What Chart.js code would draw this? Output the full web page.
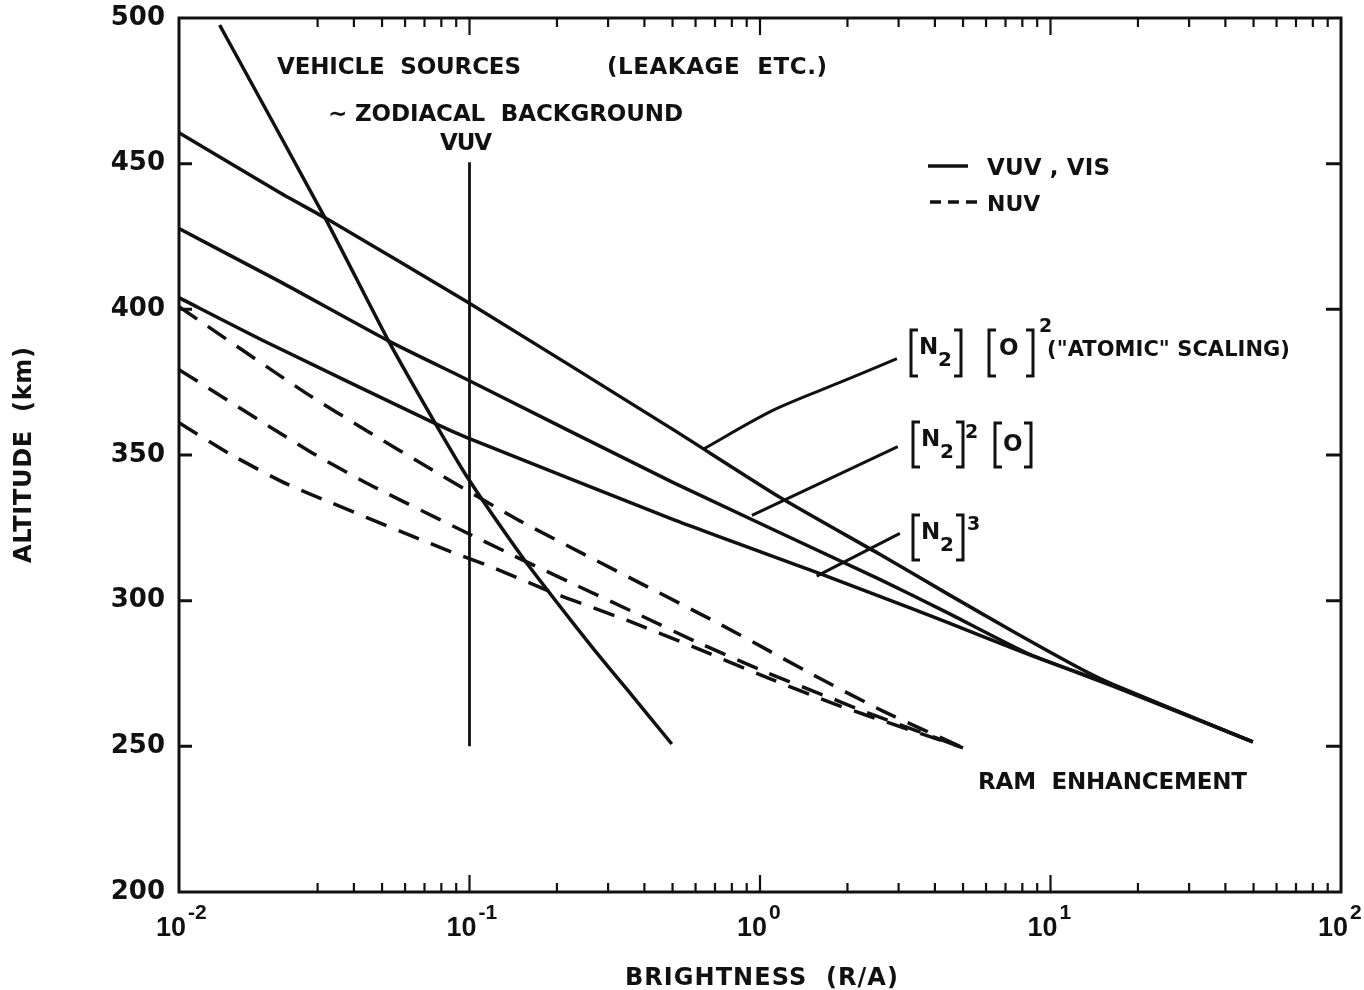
<!DOCTYPE html>
<html lang="en">
<head>
  <meta charset="UTF-8">
  <title>Altitude vs Brightness</title>
  <script src="https://cdn.jsdelivr.net/npm/chart.js"></script>
  <style>
    * { margin: 0; padding: 0; box-sizing: border-box; }
    body { background: #fff; }
    canvas { display: block; }
  </style>
</head>
<body>
  <canvas id="glowChart" width="1364" height="990"></canvas>

  <script>
    // brightness (R/A) and altitude (km) along each curve
    const zodiacX = [0.1, 0.1];
    const zodiacKm = [250, 450.5];

    const vehicleX = [0.0138, 0.03205, 0.0528, 0.0766, 0.0988, 0.1539, 0.2047, 0.268, 0.348, 0.497];
    const vehicleKm = [497.6, 430.8, 388.9, 360.5, 342.0, 314.2, 298.1, 283.3, 269.6, 250.8];

    // [N2][O]^2 ("atomic" scaling)
    const atomicX = [0.01, 0.02226, 0.0326, 0.098, 0.501, 1.17, 2.584, 4.393, 7.41, 12.6, 16.4, 49.7];
    const atomicKm = [460.6, 440.0, 430.8, 402.6, 358.8, 335.5, 315.9, 302.5, 289.5, 276.8, 271.3, 251.5];

    // [N2]^2[O]
    const mixedX = [0.01, 0.02226, 0.0532, 0.098, 0.501, 2.584, 4.393, 8.48, 16.4, 49.7];
    const mixedKm = [427.7, 409.5, 388.9, 375.9, 340.6, 307.3, 296.0, 281.6, 271.0, 251.5];

    // [N2]^3
    const cubedX = [0.01, 0.0201, 0.0773, 0.098, 0.501, 1.567, 2.584, 4.393, 8.48, 16.4, 49.7];
    const cubedKm = [404.0, 388.6, 360.5, 356.0, 327.9, 309.7, 301.5, 292.6, 281.4, 270.7, 251.5];

    // NUV (dashed)
    const nuvAX = [0.01, 0.0272, 0.0447, 0.0743, 0.149, 0.716, 1.58, 2.65, 5.0];
    const nuvAKm = [400.9, 371.4, 358.1, 344.9, 327.4, 292.3, 273.7, 262.1, 249.5];
    const nuvBX = [0.01, 0.0282, 0.0466, 0.1324, 0.2216, 0.3738, 0.6, 1.064, 1.81, 2.35, 5.0];
    const nuvBKm = [379.3, 351.2, 339.2, 316.9, 306.3, 295.7, 286.0, 275.2, 266.0, 261.5, 249.5];
    const nuvCX = [0.01, 0.015, 0.0237, 0.0823, 0.1175, 0.2032, 0.3479, 0.587, 1.064, 1.81, 2.35, 5.0];
    const nuvCKm = [361.1, 350.3, 339.9, 317.6, 311.8, 301.9, 293.3, 284.2, 273.5, 264.5, 260.5, 249.5];

    // leader lines from the curve labels
    const lead1X = [0.635, 1.107, 1.884, 2.96];
    const lead1Km = [351.9, 365.3, 374.9, 383.1];
    const lead2X = [0.938, 2.98];
    const lead2Km = [329.3, 352.9];
    const lead3X = [1.567, 3.03];
    const lead3Km = [308.4, 323.1];

    const xTicks = [0.01, 0.1, 1, 10, 100];
    const xExponents = ['-2', '-1', '0', '1', '2'];
    const yTicks = [250, 300, 350, 400, 450];

    const ink = '#111';
    const bold = '"DejaVu Sans", sans-serif';

    const notes = [
      { text: 'VEHICLE  SOURCES', x: 277, y: 66, size: 23, width: 244 },
      { text: '(LEAKAGE  ETC.)', x: 607, y: 66, size: 23, width: 220 },
      { text: '∼ ZODIACAL  BACKGROUND', x: 328, y: 113, size: 23, width: 355 },
      { text: 'VUV', x: 440, y: 142, size: 23, width: 52 },
      { text: 'VUV , VIS', x: 987, y: 167, size: 23, width: 123 },
      { text: 'NUV', x: 987, y: 203, size: 22 },
      { text: 'RAM  ENHANCEMENT', x: 978, y: 781, size: 23, width: 269 },
      { text: '("ATOMIC" SCALING)', x: 1047, y: 348, size: 21, width: 243 },
      { text: 'BRIGHTNESS  (R/A)', x: 625, y: 976, size: 24, width: 273 }
    ];

    function pairs(xs, ys) {
      return xs.map((x, i) => ({ x: x, y: ys[i] }));
    }

    function curve(xs, ys, extra) {
      return Object.assign({
        data: pairs(xs, ys),
        borderColor: ink,
        borderWidth: 3.5,
        pointRadius: 0,
        fill: false,
        tension: 0.2
      }, extra || {});
    }

    const straight = { tension: 0 };
    const dashed = { borderDash: [22, 13] };

    function putText(ctx, str, x, yMid, size, width, family) {
      ctx.save();
      ctx.font = 'bold ' + size + 'px ' + (family || bold);
      ctx.textAlign = 'left';
      ctx.textBaseline = 'alphabetic';
      const base = yMid + size * 0.36;
      const natural = ctx.measureText(str).width;
      if (width && str.length > 1) {
        if ('letterSpacing' in ctx) {
          ctx.letterSpacing = ((width - natural) / (str.length - 1)).toFixed(2) + 'px';
          ctx.fillText(str, x, base);
        } else {
          ctx.translate(x, base);
          ctx.scale(width / natural, 1);
          ctx.fillText(str, 0, 0);
        }
      } else {
        ctx.fillText(str, x, base);
      }
      ctx.restore();
    }

    function bracket(ctx, x, top, bottom, dir) {
      ctx.beginPath();
      ctx.moveTo(x + dir * 7, top);
      ctx.lineTo(x, top);
      ctx.lineTo(x, bottom);
      ctx.lineTo(x + dir * 7, bottom);
      ctx.stroke();
    }

    function species(ctx, x, top, bottom) {
      // [N2]
      bracket(ctx, x, top, bottom, 1);
      putText(ctx, 'N', x + 8, top + 16, 23);
      putText(ctx, '2', x + 27, top + 29, 20);
      bracket(ctx, x + 50, top, bottom, -1);
    }

    const paper = {
      id: 'paper',
      beforeDraw(chart) {
        const ctx = chart.ctx;
        ctx.save();
        ctx.fillStyle = '#fff';
        ctx.fillRect(0, 0, chart.width, chart.height);
        ctx.restore();
      },
      afterDraw(chart) {
        const ctx = chart.ctx;
        const a = chart.chartArea;
        const xs = chart.scales.x;
        const ys = chart.scales.y;
        ctx.save();
        ctx.strokeStyle = ink;
        ctx.fillStyle = ink;

        // frame
        ctx.lineWidth = 3;
        ctx.strokeRect(a.left, a.top, a.right - a.left, a.bottom - a.top);

        // log ticks on bottom and top, pointing inward
        ctx.lineWidth = 2.2;
        ctx.beginPath();
        for (let e = -2; e < 2; e++) {
          for (let m = 1; m < 10; m++) {
            if (e === -2 && m < 3) continue; // first decade starts its minors at 3
            const px = xs.getPixelForValue(m * Math.pow(10, e));
            const len = m === 1 ? 17 : 9;
            ctx.moveTo(px, a.bottom);
            ctx.lineTo(px, a.bottom - len);
            ctx.moveTo(px, a.top);
            ctx.lineTo(px, a.top + len);
          }
        }
        ctx.stroke();

        // altitude ticks on left and right
        ctx.lineWidth = 3;
        ctx.beginPath();
        yTicks.forEach(v => {
          const py = ys.getPixelForValue(v);
          ctx.moveTo(a.left, py);
          ctx.lineTo(a.left + 13, py);
          ctx.moveTo(a.right, py);
          ctx.lineTo(a.right - 15, py);
        });
        ctx.stroke();

        // powers of ten under the bottom axis
        const digits = '"Liberation Sans", sans-serif';
        xTicks.forEach((v, i) => {
          const px = xs.getPixelForValue(v);
          ctx.font = 'bold 27px ' + digits;
          ctx.textAlign = 'right';
          ctx.fillText('10', px + 7, 936);
          ctx.font = 'bold 21px ' + digits;
          ctx.textAlign = 'left';
          ctx.fillText(xExponents[i], px + 9, 919);
        });

        // text notes
        notes.forEach(n => putText(ctx, n.text, n.x, n.y, n.size, n.width));

        // y title
        ctx.save();
        ctx.translate(22, 455);
        ctx.rotate(-Math.PI / 2);
        putText(ctx, 'ALTITUDE  (km)', -108, 0, 24, 216);
        ctx.restore();

        // key
        ctx.lineWidth = 3.5;
        ctx.beginPath();
        ctx.moveTo(928, 166);
        ctx.lineTo(968, 166);
        ctx.stroke();
        ctx.setLineDash([11, 7]);
        ctx.beginPath();
        ctx.moveTo(930, 202);
        ctx.lineTo(977, 202);
        ctx.stroke();
        ctx.setLineDash([]);

        // curve labels with bracketed species
        ctx.lineWidth = 3;
        species(ctx, 911, 330, 376);
        bracket(ctx, 989, 330, 376, 1);
        putText(ctx, 'O', 999, 347, 23);
        bracket(ctx, 1033, 330, 376, -1);
        putText(ctx, '2', 1039, 325, 19);

        species(ctx, 913, 422, 467);
        putText(ctx, '2', 965, 431, 19);
        bracket(ctx, 995, 423, 467, 1);
        putText(ctx, 'O', 1003, 443, 23);
        bracket(ctx, 1031, 423, 467, -1);

        species(ctx, 913, 515, 560);
        putText(ctx, '3', 967, 523, 19);

        ctx.restore();
      }
    };

    new Chart(document.getElementById('glowChart'), {
      type: 'line',
      data: {
        datasets: [
          curve(zodiacX, zodiacKm, Object.assign({ borderWidth: 2.8 }, straight)),
          curve(vehicleX, vehicleKm),
          curve(atomicX, atomicKm),
          curve(mixedX, mixedKm),
          curve(cubedX, cubedKm),
          curve(nuvAX, nuvAKm, dashed),
          curve(nuvBX, nuvBKm, dashed),
          curve(nuvCX, nuvCKm, dashed),
          curve(lead1X, lead1Km, { borderWidth: 3, tension: 0.3 }),
          curve(lead2X, lead2Km, Object.assign({ borderWidth: 3 }, straight)),
          curve(lead3X, lead3Km, Object.assign({ borderWidth: 3 }, straight))
        ]
      },
      options: {
        responsive: false,
        animation: false,
        layout: { padding: { top: 18, right: 23, left: 0, bottom: 0 } },
        plugins: {
          legend: { display: false },
          tooltip: { enabled: false }
        },
        scales: {
          x: {
            type: 'logarithmic',
            min: 0.01,
            max: 100,
            grid: { display: false, drawTicks: false },
            border: { display: false },
            ticks: { display: false },
            afterFit(scale) { scale.height = 98; }
          },
          y: {
            type: 'linear',
            min: 200,
            max: 500,
            grid: { display: false, drawTicks: false },
            border: { display: false },
            ticks: {
              stepSize: 50,
              padding: 14,
              color: ink,
              font: { family: 'DejaVu Sans', weight: 'bold', size: 26 }
            },
            afterFit(scale) {
              scale.width = 179;
              scale.paddingTop = 0;
              scale.paddingBottom = 0;
            }
          }
        }
      },
      plugins: [paper]
    });
  </script>
</body>
</html>
